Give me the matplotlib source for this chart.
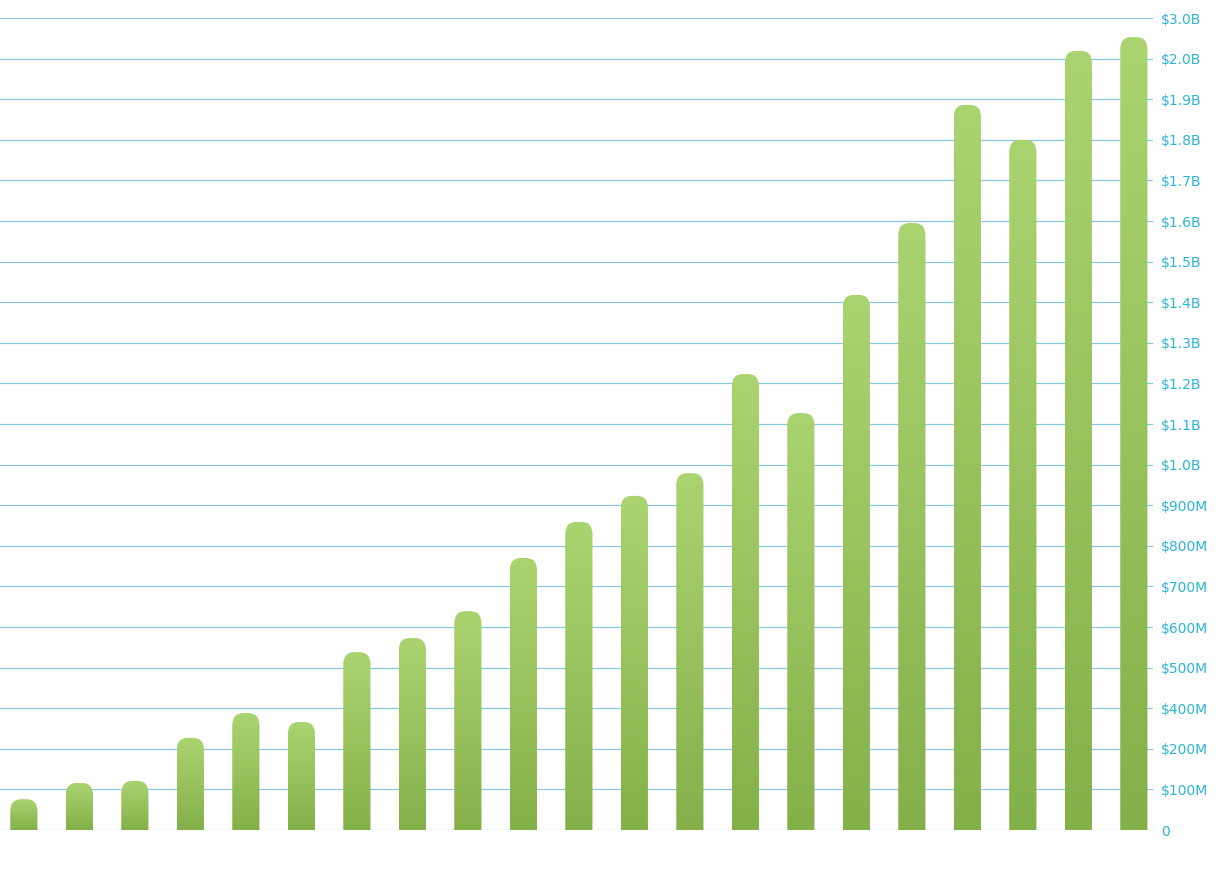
import numpy as np
import matplotlib.pyplot as plt
from matplotlib.patches import FancyBboxPatch

# axis labels sit on evenly spaced gridlines (as in the original)
tick_labels = ["0", "$100M", "$200M", "$400M", "$500M", "$600M", "$700M", "$800M",
               "$900M", "$1.0B", "$1.1B", "$1.2B", "$1.3B", "$1.4B", "$1.5B", "$1.6B",
               "$1.7B", "$1.8B", "$1.9B", "$2.0B", "$3.0B"]
# bar heights measured in gridline steps
heights = [0.76, 1.16, 1.21, 2.27, 2.88, 2.66, 4.38, 4.73, 5.39, 6.70, 7.59,
           8.23, 8.79, 11.23, 10.27, 13.18, 14.95, 17.86, 17.0, 19.19, 19.53]

fig = plt.figure(figsize=(12.25, 8.8), dpi=100)
ax = fig.add_axes([0, 0.0568, 0.941, 0.9227])
ax.set_xlim(-0.43, 20.34)
ax.set_ylim(0, 20)
ax.set_yticks(range(len(tick_labels)))
ax.set_yticklabels(tick_labels)
ax.yaxis.tick_right()
ax.tick_params(axis="y", length=0, pad=6, labelcolor="#2bb5d8", labelsize=10)
ax.set_xticks([])
for s in ax.spines.values():
    s.set_visible(False)
ax.grid(axis="y", color="#8cc8e4", linewidth=0.9)
ax.set_axisbelow(True)

grad = np.linspace(1, 0, 256).reshape(-1, 1)
from matplotlib.colors import LinearSegmentedColormap
cmap = LinearSegmentedColormap.from_list("g", ["#84b04a", "#aad46f"])
w = 0.49
for i, h in enumerate(heights):
    x0 = i - w / 2
    patch = FancyBboxPatch((x0, -0.5), w, h + 0.5,
                           boxstyle="round,pad=0,rounding_size=0.2",
                           mutation_aspect=1.5, linewidth=0, facecolor="none")
    ax.add_patch(patch)
    im = ax.imshow(grad, extent=[x0, x0 + w, 0, h], aspect="auto",
                   cmap=cmap, vmin=0, vmax=1, zorder=3)
    im.set_clip_path(patch)
    patch.set_clip_on(False)

ax.set_xlim(-0.43, 20.34)
ax.set_ylim(0, 20)
fig.savefig("out.png")
